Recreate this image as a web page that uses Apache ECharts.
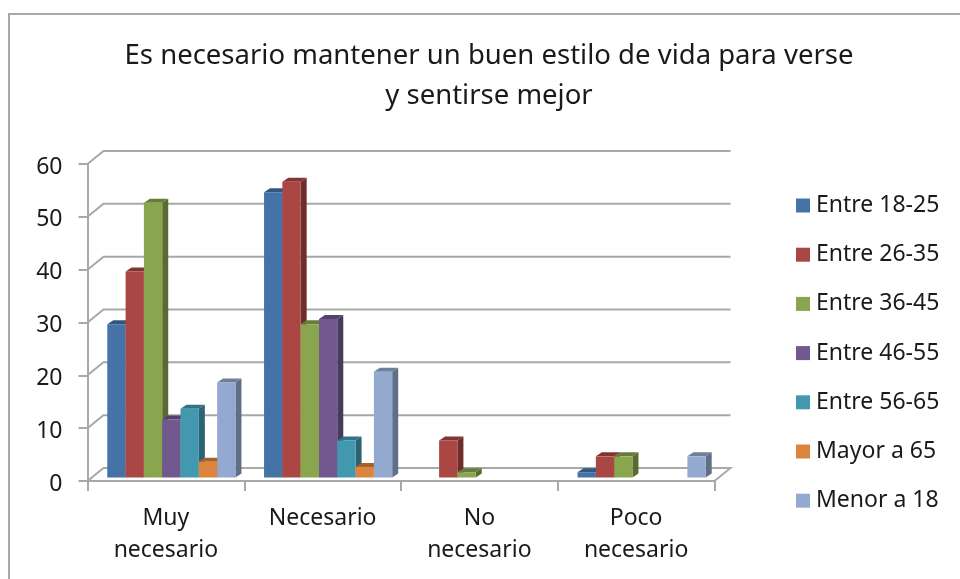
<!DOCTYPE html>
<html>
<head>
<meta charset="utf-8">
<style>
  html, body { margin: 0; padding: 0; background: #fff; }
  #chart { width: 960px; height: 579px; }
</style>
</head>
<body>
<div id="chart"></div>
<script src="https://cdn.jsdelivr.net/npm/echarts@6/dist/echarts.min.js"></script>
<script>
const titleText = 'Es necesario mantener un buen estilo de vida para verse\ny sentirse mejor'
const categories = ['Muy\nnecesario', 'Necesario', 'No\nnecesario', 'Poco\nnecesario']
const yTicks = [0, 10, 20, 30, 40, 50, 60]

const entre1825 = [29, 54, 0, 1]
const entre2635 = [39, 56, 7, 4]
const entre3645 = [52, 29, 1, 4]
const entre4655 = [11, 30, 0, 0]
const entre5665 = [13, 7, 0, 0]
const mayor65 = [3, 2, 0, 0]
const menor18 = [18, 20, 0, 4]

const seriesNames = ['Entre 18-25', 'Entre 26-35', 'Entre 36-45', 'Entre 46-55', 'Entre 56-65', 'Mayor a 65', 'Menor a 18']
const seriesValues = [entre1825, entre2635, entre3645, entre4655, entre5665, mayor65, menor18]
const colors = ['#4572A7', '#AA4643', '#89A54E', '#71588F', '#4198AF', '#DB843D', '#93A9CF']

const fontFamily = '"Noto Sans", sans-serif'
const wallColor = '#a8a8a8'
// fake 3d: how far the back wall sits from the front plane
const wallDx = 16
const wallDy = 13
const barShiftX = 5.5
const barShiftY = 3.5
const barDepthX = 6
const barDepthY = 4
const barRatio = 0.1168

function shade(hex, k) {
  const n = parseInt(hex.slice(1), 16)
  const r = Math.round((n >> 16 & 255) * k)
  const g = Math.round((n >> 8 & 255) * k)
  const b = Math.round((n & 255) * k)
  return 'rgb(' + r + ',' + g + ',' + b + ')'
}

function renderWall(params, api) {
  const band = api.size([1, 0])[0]
  const start = api.coord([0, api.value(1)])
  const x0 = start[0] - band / 2
  const x1 = x0 + band * categories.length
  const y = start[1]
  const points = [[x0, y], [x0 + wallDx, y - wallDy], [x1 + wallDx, y - wallDy]]
  if (api.value(1) === 0) points.push([x1, y])
  return {
    type: 'polyline',
    shape: { points: points },
    style: { fill: 'none', stroke: wallColor, lineWidth: 2 }
  }
}

function renderBar(params, api) {
  const value = api.value(1)
  if (!value) return null
  const band = api.size([1, 0])[0]
  const w = band * barRatio
  const center = api.coord([api.value(0), 0])
  const top = api.coord([api.value(0), value])
  const left = center[0] + barShiftX + (params.seriesIndex - 1 - 3.5) * w
  const right = left + w
  const yBase = center[1] - barShiftY
  const yTop = top[1] - barShiftY
  const color = colors[params.seriesIndex - 1]
  return {
    type: 'group',
    children: [
      {
        type: 'polygon',
        shape: { points: [[right, yTop], [right + barDepthX, yTop - barDepthY], [right + barDepthX, yBase - barDepthY], [right, yBase]] },
        style: { fill: shade(color, 0.65) }
      },
      {
        type: 'polygon',
        shape: { points: [[left, yTop], [left + barDepthX, yTop - barDepthY], [right + barDepthX, yTop - barDepthY], [right, yTop]] },
        style: { fill: shade(color, 0.75) }
      },
      {
        type: 'rect',
        shape: { x: left, y: yTop, width: w, height: yBase - yTop },
        style: { fill: color }
      }
    ]
  }
}

const chart = echarts.init(document.getElementById('chart'))

const series = [{
  name: 'wall',
  type: 'custom',
  silent: true,
  renderItem: renderWall,
  data: yTicks.map(function (v) { return [0, v] }),
  z: 1
}]
seriesNames.forEach(function (name, i) {
  series.push({
    name: name,
    type: 'custom',
    renderItem: renderBar,
    itemStyle: { color: colors[i] },
    data: seriesValues[i].map(function (v, c) { return [c, v] }),
    z: 3
  })
})

chart.setOption({
  animation: false,
  backgroundColor: '#fff',
  title: {
    text: titleText,
    left: 484,
    top: 31,
    textAlign: 'center',
    textStyle: { fontFamily: fontFamily, fontSize: 27.5, fontWeight: 'normal', color: '#1a1a1a', lineHeight: 40 }
  },
  legend: {
    data: seriesNames,
    orient: 'vertical',
    left: 796,
    top: 194,
    padding: 0,
    icon: 'rect',
    itemWidth: 14,
    itemHeight: 14,
    itemGap: 26.2,
    selectedMode: false,
    textStyle: { fontFamily: fontFamily, fontSize: 23, color: '#1a1a1a', lineHeight: 22, padding: [0, 0, 0, 1] }
  },
  grid: { left: 87.5, top: 164, width: 627, height: 317 },
  xAxis: {
    type: 'category',
    data: categories,
    axisLine: { lineStyle: { color: wallColor, width: 2 } },
    axisTick: { show: true, length: 10, lineStyle: { color: wallColor, width: 2 } },
    axisLabel: { fontFamily: fontFamily, fontSize: 23, color: '#1a1a1a', lineHeight: 32, margin: 21, interval: 0 }
  },
  yAxis: {
    type: 'value',
    min: 0,
    max: 60,
    interval: 10,
    splitLine: { show: false },
    axisLine: { show: true, lineStyle: { color: wallColor, width: 2 } },
    axisTick: { show: true, length: 9, lineStyle: { color: wallColor, width: 2 } },
    axisLabel: { fontFamily: fontFamily, fontSize: 23, color: '#1a1a1a', margin: 25, verticalAlign: 'top', lineHeight: 6 }
  },
  graphic: [{
    type: 'polyline',
    silent: true,
    shape: { points: [[9, 579], [9, 14], [960, 14]] },
    style: { fill: 'none', stroke: '#a8a8a8', lineWidth: 2 }
  }],
  series: series
})
</script>
</body>
</html>
